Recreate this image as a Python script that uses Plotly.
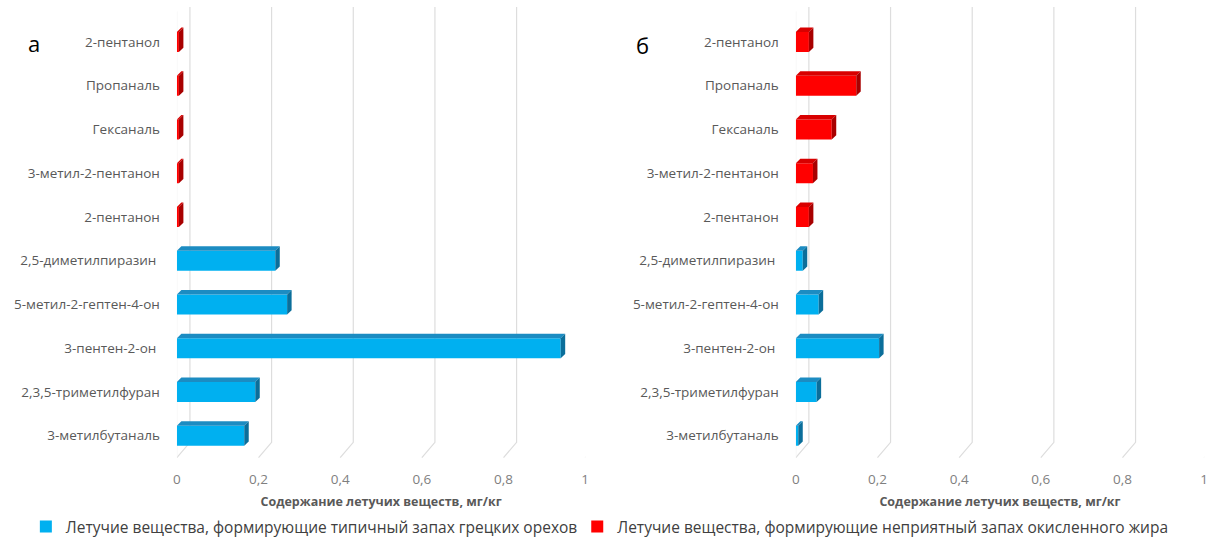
import plotly.graph_objects as go

# Compounds listed from the bottom row of each panel to the top row
compounds = [
    "3-метилбутаналь",
    "2,3,5-триметилфуран",
    "3-пентен-2-он ",
    "5-метил-2-гептен-4-он",
    "2,5-диметилпиразин ",
    "2-пентанон",
    "3-метил-2-пентанон",
    "Гексаналь",
    "Пропаналь",
    "2-пентанол",
]
# First five: typical walnut aroma; last five: oxidised-fat off-odour
walnut_idx = [0, 1, 2, 3, 4]
rancid_idx = [5, 6, 7, 8, 9]

# Content of volatiles, mg/kg — panel "а"
panel_a = [0.165, 0.192, 0.94, 0.27, 0.241, 0.005, 0.005, 0.005, 0.005, 0.005]
# Content of volatiles, mg/kg — panel "б"
panel_b = [0.006, 0.051, 0.204, 0.056, 0.017, 0.032, 0.042, 0.088, 0.148, 0.032]

x_ticks = [0, 0.2, 0.4, 0.6, 0.8, 1]

legend_names = [
    "Летучие вещества, формирующие типичный запах грецких орехов",
    "Летучие вещества, формирующие неприятный запах окисленного жира",
]
axis_title = "Содержание летучих веществ, мг/кг"
panel_letters = ["а", "б"]

BLUE, BLUE_TOP, BLUE_SIDE = "#00B0F0", "#1C8CC2", "#0B6E9A"
RED, RED_TOP, RED_SIDE = "#FF0000", "#D80000", "#A80000"
GRID = "#DDDDDD"
TXT = "#595959"
FONT = "Open Sans"

BAR_W = 0.46      # bar thickness, category units
DX = 0.011        # extrusion depth along the value axis
DY = 0.10         # extrusion depth along the category axis
GRID_DX = 0.032   # back wall offset of the grid
Y_RANGE = [-0.6, 9.8]

fig = go.Figure()
shapes = []

panels = [
    (panel_a, "x", "y", True),
    (panel_b, "x2", "y2", False),
]

for values, xa, ya, show in panels:
    for idx, name, col, leg in [(walnut_idx, legend_names[0], BLUE, "legend"),
                                (rancid_idx, legend_names[1], RED, "legend2")]:
        fig.add_trace(go.Bar(
            x=[values[i] for i in idx],
            y=idx,
            orientation="h",
            width=BAR_W,
            marker=dict(color=col, line=dict(width=0)),
            name=name,
            showlegend=show,
            legend=leg,
            xaxis=xa, yaxis=ya,
            hoverinfo="skip",
        ))

    # grid: vertical lines on the back wall that bend to the front floor
    for t in x_ticks:
        shapes.append(dict(
            type="path", xref=xa, yref=ya, layer="below",
            path=f"M {t},-0.5 L {t + GRID_DX},-0.15 L {t + GRID_DX},{Y_RANGE[1]}",
            line=dict(color=GRID, width=1.2),
        ))
    shapes.append(dict(
        type="line", xref=xa, yref=ya, layer="below",
        x0=0, x1=0, y0=-0.5, y1=Y_RANGE[1] - 0.1,
        line=dict(color="#F0F0F0", width=1),
    ))

    # top and right faces of every bar
    for i, v in enumerate(values):
        top_c, side_c = (BLUE_TOP, BLUE_SIDE) if i in walnut_idx else (RED_TOP, RED_SIDE)
        y_lo, y_hi = i - BAR_W / 2, i + BAR_W / 2
        shapes.append(dict(
            type="path", xref=xa, yref=ya, layer="above",
            path=(f"M 0,{y_hi} L {v},{y_hi} L {v + DX},{y_hi + DY} "
                  f"L {DX},{y_hi + DY} Z"),
            fillcolor=top_c, line=dict(width=0),
        ))
        shapes.append(dict(
            type="path", xref=xa, yref=ya, layer="above",
            path=(f"M {v},{y_lo} L {v + DX},{y_lo + DY} L {v + DX},{y_hi + DY} "
                  f"L {v},{y_hi} Z"),
            fillcolor=side_c, line=dict(width=0),
        ))

W, H = 1230, 544
y_dom = [1 - 462 / H, 1 - 7 / H]

x_common = dict(
    range=[0, 1], tickvals=x_ticks, showgrid=False, zeroline=False,
    showline=False, ticks="", ticklabelstandoff=7,
    tickfont=dict(family=FONT, size=13.5, color="#7F7F7F"),
    fixedrange=True,
)
y_common = dict(
    range=Y_RANGE, tickvals=list(range(len(compounds))), ticktext=compounds,
    showgrid=False, zeroline=False, showline=False, ticks="",
    ticklabelstandoff=16,
    tickfont=dict(family=FONT, size=13.5, color=TXT), fixedrange=True,
)
title_common = dict(text=axis_title, font=dict(family=FONT, size=12.5, color=TXT,
                                               weight="bold"), standoff=10)

legend_common = dict(
    orientation="h", y=0.0, yanchor="bottom", xanchor="left",
    font=dict(family=FONT, size=15.5, color="#404040"),
    itemwidth=30, bgcolor="rgba(0,0,0,0)",
)

fig.update_layout(
    width=W, height=H,
    margin=dict(l=0, r=0, t=0, b=0),
    paper_bgcolor="white", plot_bgcolor="rgba(0,0,0,0)",
    separators=", ",
    barmode="overlay",
    xaxis=dict(domain=[174 / W, 585 / W], anchor="y", title=title_common, **x_common),
    yaxis=dict(domain=y_dom, anchor="x", **y_common),
    xaxis2=dict(domain=[797 / W, 1208 / W], anchor="y2", title=title_common, **x_common),
    yaxis2=dict(domain=y_dom, anchor="x2", **y_common),
    shapes=shapes,
    legend=dict(x=22 / W, **legend_common),
    legend2=dict(x=577 / W, **legend_common),
    annotations=[
        dict(text=panel_letters[0], xref="paper", yref="paper", x=30 / W, y=1 - 43 / H,
             xanchor="center", yanchor="middle",
             showarrow=False, font=dict(family=FONT, size=22, color="black")),
        dict(text=panel_letters[1], xref="paper", yref="paper", x=643 / W, y=1 - 45 / H,
             xanchor="center", yanchor="middle",
             showarrow=False, font=dict(family=FONT, size=22, color="black")),
    ],
)

fig.write_html("out.html")
